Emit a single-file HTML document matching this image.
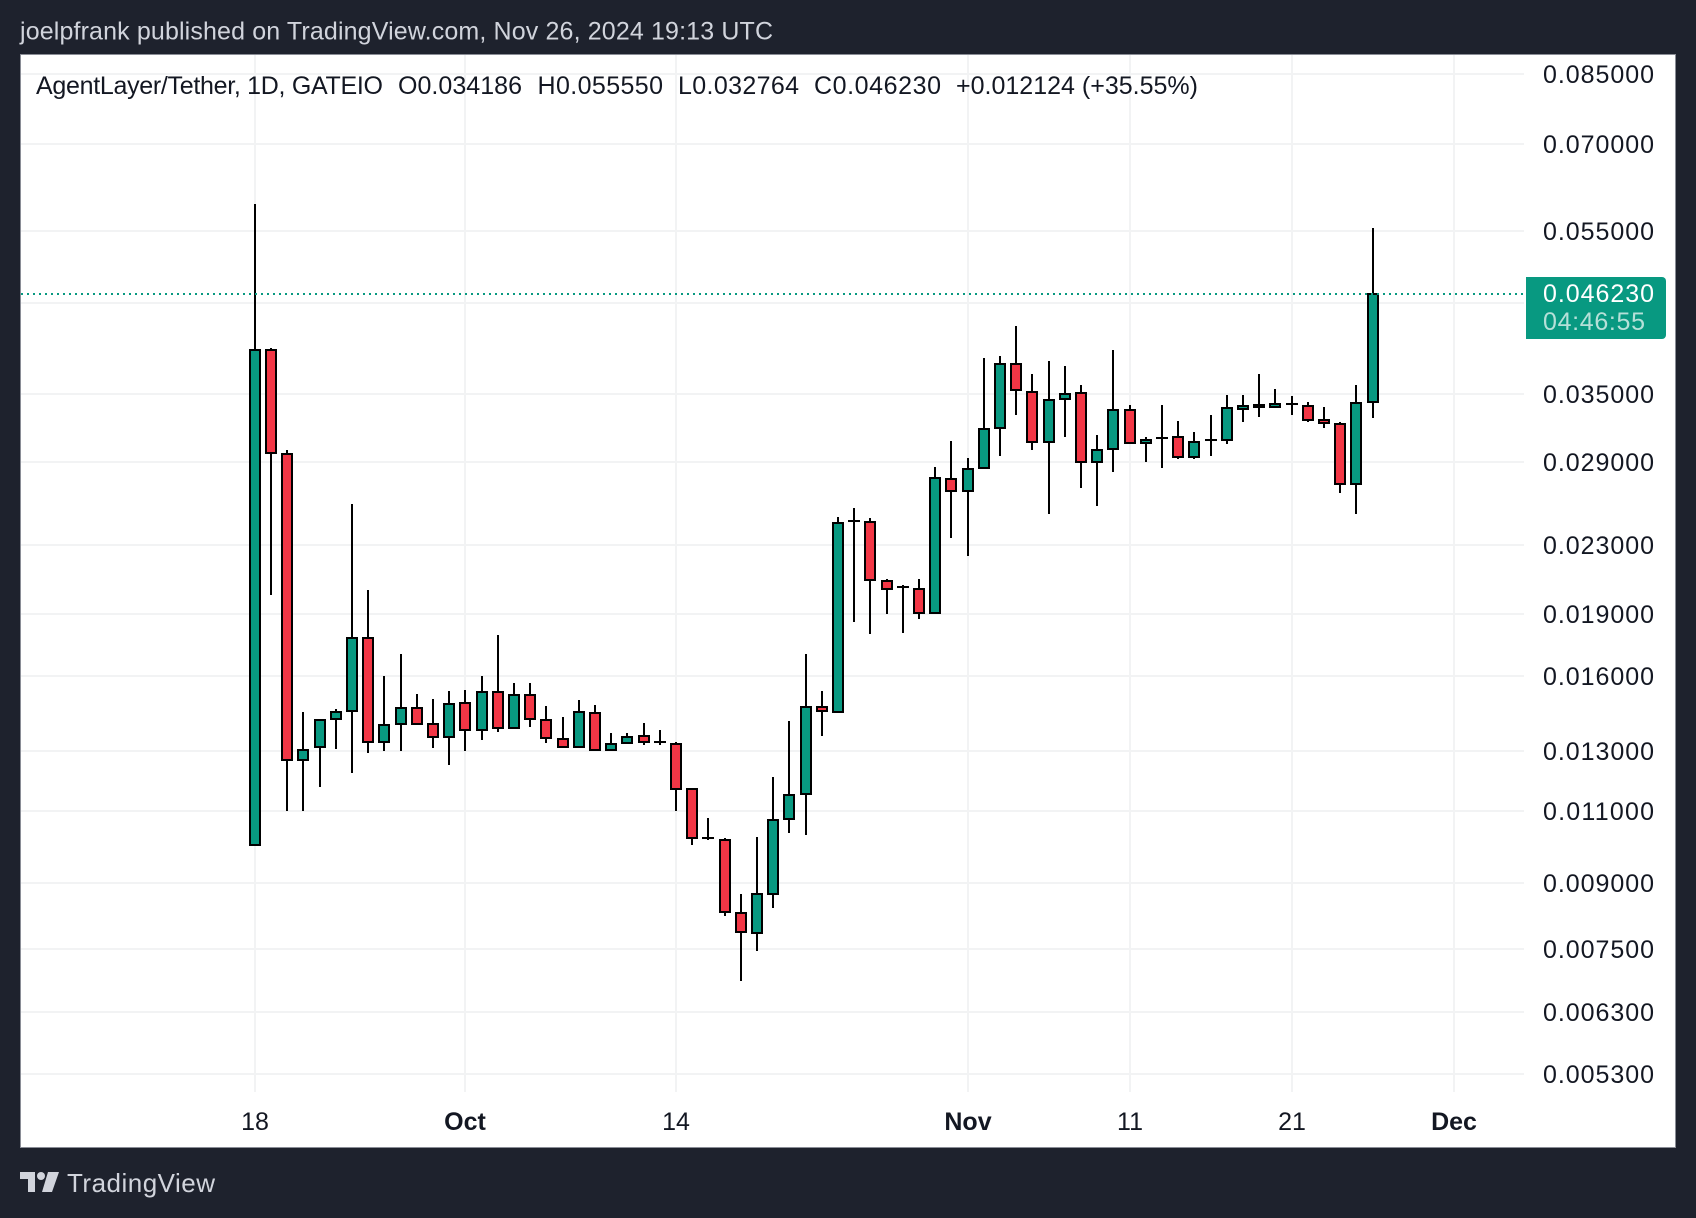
<!DOCTYPE html>
<html lang="en">
<head>
<meta charset="utf-8">
<title>AgentLayer/Tether 1D chart</title>
<style>
html,body{margin:0;padding:0;background:#1e222d;width:1696px;height:1218px;overflow:hidden}
svg{display:block}
text{font-family:"Liberation Sans",sans-serif;font-size:25px}
</style>
</head>
<body>
<svg id="chart" xmlns="http://www.w3.org/2000/svg" width="1696" height="1218" viewBox="0 0 1696 1218">
  <rect x="0" y="0" width="1696" height="1218" fill="#1e222d"/>
  <text x="20" y="39.5" fill="#d1d4dc" textLength="753">joelpfrank published on TradingView.com, Nov 26, 2024 19:13 UTC</text>
  <rect x="20.5" y="54.5" width="1655" height="1093" fill="#ffffff" stroke="#8a8d96" stroke-width="1"/>
  <g id="grid"></g>
  <g id="candles"></g>
  <g id="y-axis"></g>
  <g id="x-axis"></g>
  <g fill="#131722">
    <text x="36" y="94" textLength="347">AgentLayer/Tether, 1D, GATEIO</text>
    <text x="398" y="94" textLength="124">O0.034186</text>
    <text x="537.5" y="94" textLength="125.5">H0.055550</text>
    <text x="678" y="94" textLength="121">L0.032764</text>
    <text x="814" y="94" textLength="127">C0.046230</text>
    <text x="956" y="94" textLength="242">+0.012124 (+35.55%)</text>
  </g>
  <g>
    <path d="M1526 277H1662a4 4 0 0 1 4 4V335a4 4 0 0 1 -4 4H1526Z" fill="#089981"/>
    <text x="1543" y="302" fill="#ffffff" textLength="111">0.046230</text>
    <text x="1543" y="330" fill="#b5e0d8" textLength="102">04:46:55</text>
  </g>
  <g fill="#d1d4dc">
    <path d="M20 1172H35V1192H28V1179H20Z"/>
    <circle cx="41" cy="1176" r="4"/>
    <path d="M48 1172H59L52 1192H42Z"/>
    <text x="67" y="1192" font-size="26" style="font-size:26px" textLength="148">TradingView</text>
  </g>
</svg>
<script>
const days = ['Sep 18','Sep 19','Sep 20','Sep 21','Sep 22','Sep 23','Sep 24','Sep 25','Sep 26','Sep 27','Sep 28','Sep 29','Sep 30','Oct 1','Oct 2','Oct 3','Oct 4','Oct 5','Oct 6','Oct 7','Oct 8','Oct 9','Oct 10','Oct 11','Oct 12','Oct 13','Oct 14','Oct 15','Oct 16','Oct 17','Oct 18','Oct 19','Oct 20','Oct 21','Oct 22','Oct 23','Oct 24','Oct 25','Oct 26','Oct 27','Oct 28','Oct 29','Oct 30','Oct 31','Nov 1','Nov 2','Nov 3','Nov 4','Nov 5','Nov 6','Nov 7','Nov 8','Nov 9','Nov 10','Nov 11','Nov 12','Nov 13','Nov 14','Nov 15','Nov 16','Nov 17','Nov 18','Nov 19','Nov 20','Nov 21','Nov 22','Nov 23','Nov 24','Nov 25','Nov 26'];
const opens = [.0100,.0395,.0296,.01266,.01313,.014187,.014505,.017764,.01331,.013992,.014628,.013992,.013496,.014833,.013761,.015292,.013837,.015166,.01415,.013421,.01313,.014426,.013018,.013273,.013533,.01331,.013237,.011683,.010197,.01014,.008282,.007834,.008729,.010749,.011522,.014668,.014465,.024577,.024509,.020805,.020461,.020348,.019037,.027618,.026713,.028474,.031816,.037996,.035156,.030604,.03448,.035058,.028955,.030015,.033443,.030518,.030945,.03103,.029356,.030774,.030774,.033537,.033723,.033723,.034005,.033816,.032528,.032172,.027237,.034186];
const highs = [.05923,.03972,.02993,.014465,.01415,.014587,.025764,.02029,.01599,.016993,.015208,.014998,.015335,.015378,.01599,.017913,.015679,.015679,.01471,.014266,.014957,.01475,.013647,.013647,.01403,.013761,.01331,.011683,.010779,.010197,.008729,.010225,.012078,.014109,.016993,.015335,.024851,.025479,.024784,.02092,.020575,.02092,.028553,.030688,.029275,.038634,.038848,.042221,.036956,.038315,.037785,.035845,.031204,.0395,.03391,.03103,.03391,.032435,.031465,.032983,.034864,.034864,.036956,.03545,.034768,.034194,.033723,.032348,.035845,.05555];
const lows = [.00999,.02001,.011,.011,.01176,.013065,.012223,.01292,.013,.013,.013992,.013101,.012498,.013,.013395,.013696,.013837,.013888,.013284,.01313,.01313,.013018,.013018,.013237,.0132,.0132,.011,.010009,.01014,.008213,.006857,.007452,.008397,.01034,.010282,.013533,.014465,.018567,.017959,.018984,.018009,.018723,.019037,.023464,.022302,.028474,.029438,.032983,.02993,.02506,.03103,.026936,.02562,.02816,.030518,.028955,.028474,.029194,.029194,.029438,.030434,.032348,.032828,.033723,.032983,.032348,.031816,.026564,.02506,.032764];
const closes = [.0395,.02968,.01266,.01305,.01415,.014465,.017764,.01331,.013953,.014628,.013992,.013496,.014792,.013761,.015292,.013837,.015166,.014187,.013459,.01313,.014465,.013018,.013237,.013496,.01331,.01331,.011683,.010197,.010197,.008304,.007856,.008729,.010719,.01149,.014668,.014505,.024441,.024577,.020862,.020348,.020461,.019037,.027694,.026713,.028395,.031728,.037996,.035351,.030604,.034384,.034962,.028955,.02993,.033443,.030518,.030774,.030945,.029356,.030604,.030774,.033629,.033816,.033938,.034005,.034005,.032528,.032258,.027237,.0341,.04623];
const priceTicks = [.085,.07,.055,.045,.035,.029,.023,.019,.016,.013,.011,.009,.0075,.0063,.0053];
const priceTickLabels = ['0.085000','0.070000','0.055000','','0.035000','0.029000','0.023000','0.019000','0.016000','0.013000','0.011000','0.009000','0.007500','0.006300','0.005300'];
const timeTicks = [0,13,26,44,54,64,74];
const timeTickLabels = ['18','Oct','14','Nov','11','21','Dec'];
const timeTickBold = [false,true,false,true,false,false,true];
const lastPrice = .04623;

const NS = 'http://www.w3.org/2000/svg';
const xScale = i => Math.floor(255.2 + i * 16.2);
const yScale = p => 74.2 + 360.4 * Math.log(.085 / p);

function make(tag, attrs, parent) {
  const el = document.createElementNS(NS, tag);
  for (const k in attrs) el.setAttribute(k, attrs[k]);
  parent.appendChild(el);
  return el;
}

const grid = document.getElementById('grid');
const candles = document.getElementById('candles');
const yAxis = document.getElementById('y-axis');
const xAxis = document.getElementById('x-axis');

priceTicks.forEach((p, i) => {
  const y = Math.round(yScale(p));
  const line = make('line', {x1: 21, x2: 1524, y1: y, y2: y, stroke: '#f2f3f4', 'stroke-width': 2}, grid);
  
  
  if (priceTickLabels[i]) {
    const t = make('text', {x: 1543, y: y + 9, fill: '#131722', textLength: 111}, yAxis);
    
    
    t.textContent = priceTickLabels[i];
  }
});

timeTicks.forEach((d, i) => {
  const x = xScale(d);
  const line = make('line', {x1: x, x2: x, y1: 55, y2: 1092, stroke: '#f2f3f4', 'stroke-width': 2}, grid);
  
  
  const t = make('text', {x: x, y: 1130, fill: '#131722', 'text-anchor': 'middle', 'font-weight': timeTickBold[i] ? 'bold' : 'normal'}, xAxis);
  
  
  t.textContent = timeTickLabels[i];
});

days.forEach((day, i) => {
  const x = xScale(i);
  const wick = make('line', {x1: x, x2: x, y1: Math.round(yScale(highs[i])), y2: Math.round(yScale(lows[i])), stroke: '#000000', 'stroke-width': 2}, candles);
  
  
  const top = Math.round(yScale(Math.max(opens[i], closes[i])));
  const bottom = Math.round(yScale(Math.min(opens[i], closes[i])));
  const up = closes[i] >= opens[i];
  const body = make('rect', {x: x - 5, y: top, width: 10, height: Math.max(bottom - top, 0.01), fill: up ? '#089981' : '#f23645', stroke: '#000000', 'stroke-width': 2}, candles);
  
  
});

const priceLine = make('line', {x1: 21, x2: 1524, y1: Math.round(yScale(lastPrice)), y2: Math.round(yScale(lastPrice)), stroke: '#089981', 'stroke-width': 2, 'stroke-dasharray': '2 4'}, candles);


</script>
</body>
</html>
